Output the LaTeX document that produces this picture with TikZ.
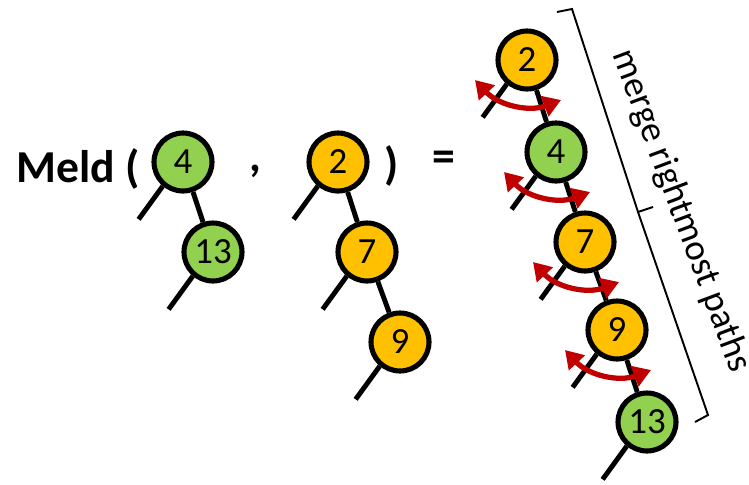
\documentclass[tikz,border=0pt]{standalone}
\usepackage{fontspec}
\setmainfont{Carlito}
\usetikzlibrary{arrows.meta}
\definecolor{leafgreen}{HTML}{92D050}
\definecolor{heapgold}{HTML}{FFC000}
\definecolor{swapred}{HTML}{C00000}

\begin{document}
\begin{tikzpicture}[x=0.02cm,y=-0.02cm,
  key/.style={circle,draw,line width=2.9pt,minimum size=1.16cm,inner sep=0pt,font=\fontsize{21}{25}\selectfont},
  gkey/.style={key,fill=leafgreen},
  okey/.style={key,fill=heapgold},
  link/.style={line width=2.8pt},
  swap/.style={draw=swapred,line width=3pt,arrows={Triangle[length=10pt,width=12pt]-Triangle[length=10pt,width=12pt]}},
  sym/.style={font=\bfseries\fontsize{26}{31}\selectfont,inner sep=0pt}]
\useasboundingbox (0,0) rectangle (749,484);
\node[sym,anchor=base west] (meld) at (16,182) {Meld (};
\node[sym] (comma) at (255,171) {,};
\node[sym] (rpar) at (392,166) {)};
\node[sym] (eq) at (444,161) {=};
\node[gkey] (a4) at (183,162) {4};
\node[gkey] (a13) at (213,252) {13};
\node[okey] (b2) at (338,162) {2};
\node[okey] (b7) at (367,252) {7};
\node[okey] (b9) at (400,342) {9};
\node[okey] (c2) at (527,60) {2};
\node[gkey] (c4) at (556,152) {4};
\node[okey] (c7) at (585,242) {7};
\node[okey] (c9) at (617,330) {9};
\node[gkey] (c13) at (647,422) {13};
\draw[link] (a4) -- (a13);
\draw[link] (b2) -- (b7) -- (b9);
\draw[link] (c2) -- (c4) -- (c7) -- (c9) -- (c13);
\foreach \n in {a4,a13,b2,b7,b9,c2,c4,c7,c9,c13}
  \draw[link] (\n.230) -- ++(234:0.82cm) coordinate (\n-nil);
\foreach \n in {c2,c4,c7,c9}
  \draw[swap] ([shift={(-52,20)}]\n.center) to[bend right=34] ([shift={(34,40)}]\n.center);
\draw[line width=1.1pt] (557,12) -- (572,9) -- (638,212) -- (708,415) -- (695,422);
\draw[line width=1.1pt] (638,212) -- (653,207);
\node[rotate=-69.5,font=\fontsize{21}{25}\selectfont] (note) at (681,211) {merge rightmost paths};
\end{tikzpicture}
\end{document}
